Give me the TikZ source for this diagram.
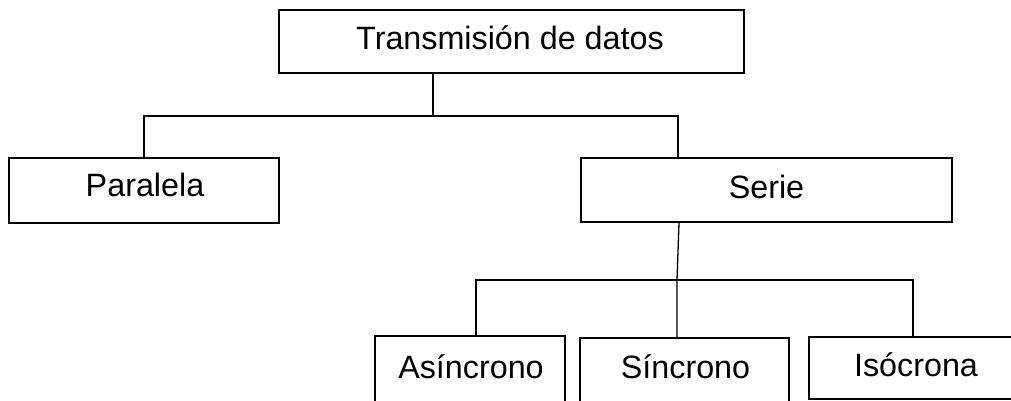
\documentclass[tikz,border=0pt]{standalone}
\usepackage{fontspec}
\setmainfont{Liberation Sans}
\usetikzlibrary{calc}
\begin{document}
\begin{tikzpicture}[x=1pt,y=-1pt,
  box/.style={draw=black,line width=1.3pt,inner sep=0pt,rectangle},
  lbl/.style={anchor=base,inner sep=0pt,font=\fontsize{32.3}{38}\selectfont},
  conn/.style={draw=black,line width=1.3pt}]
\clip (0,0) rectangle (1011,401);
\fill[white] (0,0) rectangle (1011,401);
% boxes
\node[box,minimum width=465pt,minimum height=63pt] (top) at (511.5,41.5) {};
\node[box,minimum width=270pt,minimum height=65pt] (par) at (144,190.5) {};
\node[box,minimum width=371pt,minimum height=64pt] (ser) at (766.5,190) {};
\node[box,minimum width=190pt,minimum height=68pt] (asi) at (470,370) {};
\node[box,minimum width=209pt,minimum height=66pt] (sin) at (684.5,371) {};
\node[box,minimum width=206pt,minimum height=62pt] (iso) at (912,368) {};
% labels
\node[lbl] (ttop) at (510,50) {Transmisión de datos};
\node[lbl] (tpar) at (145,196) {Paralela};
\node[lbl] (tser) at (766.5,198) {Serie};
\node[lbl] (tasi) at (471,378) {Asíncrono};
\node[lbl] (tsin) at (685.5,378) {Síncrono};
\node[lbl] (tiso) at (916,376) {Isócrona};
% junctions
\coordinate (j1) at (433,116);
\coordinate (j2) at (678,116);
\coordinate (j3) at (677,280);
\coordinate (a1) at (476,280);
\coordinate (a2) at (913,280);
% connectors
\draw[conn] (top.south -| j1) -- (j1);
\draw[conn] (par.north) |- (j2) -- (j2 |- ser.north);
\draw[conn] ($(j3 |- ser.south)+(2,0)$) -- (j3) -- (j3 |- sin.north);
\draw[conn] (a1 |- asi.north) -- (a1) -- (a2) -- (a2 |- iso.north);
\end{tikzpicture}
\end{document}
